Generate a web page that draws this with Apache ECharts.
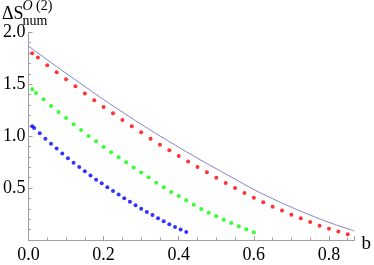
<!DOCTYPE html>
<html>
<head>
<meta charset="utf-8">
<script src="https://cdn.jsdelivr.net/npm/echarts@6/dist/echarts.min.js"></script>
<style>html,body{margin:0;padding:0;background:#fff;}#c{width:374px;height:265px;}</style>
</head>
<body>
<div id="c"></div>
<script>
const redX = [0.01,0.025,0.05,0.075,0.1,0.125,0.15,0.175,0.2,0.225,0.25,0.275,0.3,0.325,0.35,0.375,0.4,0.425,0.45,0.475,0.5,0.525,0.55,0.575,0.6,0.625,0.65,0.675,0.7,0.725,0.75,0.775,0.8,0.825,0.85];
const redY = [1.798,1.757,1.683,1.615,1.548,1.480,1.410,1.346,1.281,1.220,1.156,1.095,1.037,0.976,0.918,0.864,0.809,0.755,0.703,0.652,0.600,0.549,0.501,0.453,0.408,0.363,0.321,0.283,0.244,0.209,0.173,0.138,0.109,0.083,0.055];
const greenX = [0.01,0.02,0.04,0.06,0.08,0.1,0.12,0.14,0.16,0.18,0.2,0.22,0.24,0.26,0.28,0.3,0.32,0.34,0.36,0.38,0.4,0.42,0.44,0.46,0.48,0.5,0.52,0.54,0.56,0.58,0.6];
const greenY = [1.452,1.416,1.355,1.291,1.233,1.175,1.114,1.060,1.002,0.951,0.896,0.845,0.796,0.748,0.697,0.649,0.604,0.552,0.507,0.462,0.424,0.382,0.340,0.299,0.263,0.228,0.196,0.164,0.132,0.103,0.074];
const blueX = [0.01,0.015,0.03,0.045,0.06,0.075,0.09,0.105,0.12,0.135,0.15,0.165,0.18,0.195,0.21,0.225,0.24,0.255,0.27,0.285,0.3,0.315,0.33,0.345,0.36,0.375,0.39,0.405,0.42];
const blueY = [1.095,1.079,1.028,0.976,0.928,0.880,0.832,0.787,0.745,0.703,0.662,0.620,0.581,0.546,0.507,0.472,0.437,0.401,0.369,0.334,0.302,0.270,0.241,0.209,0.180,0.151,0.125,0.100,0.077];
const curveX = [0,0.05,0.1,0.15,0.2,0.25,0.3,0.35,0.4,0.45,0.5,0.55,0.6,0.65,0.7,0.75,0.8,0.85,0.868];
const curveY = [1.867,1.735,1.605,1.478,1.352,1.232,1.115,1.002,0.893,0.788,0.686,0.586,0.486,0.398,0.316,0.240,0.170,0.108,0.087];
const xTicks = [0, 0.2, 0.4, 0.6, 0.8];
const yTicks = [0.5, 1.0, 1.5, 2.0];

const zip = (a, b) => a.map((v, i) => [v, b[i]]);
const F = 'Liberation Serif';
const axisColor = '#a0a0a0';
const chart = echarts.init(document.getElementById('c'));
chart.setOption({
  animation: false,
  backgroundColor: '#fff',
  grid: { left: 26.3, right: 18, top: 32.3, bottom: 25 },
  xAxis: {
    type: 'value', min: 0, max: 0.868, interval: 0.2,
    name: 'b', nameLocation: 'end', nameGap: 7,
    nameTextStyle: { fontFamily: F, fontSize: 19, color: '#000', verticalAlign: 'top', padding: [-5, 0, 0, 0] },
    axisLine: { lineStyle: { color: axisColor, width: 1 } },
    axisTick: { inside: true, length: 4, lineStyle: { color: axisColor } },
    minorTick: { show: true, splitNumber: 4, length: 2.5, lineStyle: { color: axisColor } },
    splitLine: { show: false },
    axisLabel: { fontFamily: F, fontSize: 18, color: '#000', margin: 6, showMaxLabel: false,
      formatter: v => xTicks.some(t => Math.abs(t - v) < 1e-9) ? v.toFixed(1) : '' }
  },
  yAxis: {
    type: 'value', min: 0, max: 2, interval: 0.5,
    axisLine: { show: true, lineStyle: { color: axisColor, width: 1 } },
    axisTick: { show: true, inside: true, length: 4, lineStyle: { color: axisColor } },
    minorTick: { show: true, splitNumber: 5, length: 2.5, lineStyle: { color: axisColor } },
    splitLine: { show: false },
    axisLabel: { fontFamily: F, fontSize: 18, color: '#000', margin: 3,
      formatter: v => yTicks.some(t => Math.abs(t - v) < 1e-9) ? v.toFixed(1) : '' }
  },
  graphic: [
    { type: 'text', left: 2, top: 5, style: { text: 'ΔS', font: '18px "Liberation Serif"', fill: '#000' } },
    { type: 'text', left: 22.5, top: -1, style: { text: '{o|O}{p| (2)}', rich: { o: { fontFamily: F, fontSize: 14, fontStyle: 'italic', fill: '#000' }, p: { fontFamily: F, fontSize: 14, fill: '#000' } } } },
    { type: 'text', left: 22.5, top: 14, style: { text: 'num', font: '14px "Liberation Serif"', fill: '#000' } }
  ],
  series: [
    { type: 'line', data: zip(curveX, curveY), smooth: true, showSymbol: false, lineStyle: { color: '#7f7fc7', width: 1 }, z: 1 },
    { type: 'scatter', data: zip(redX, redY), symbolSize: 4, itemStyle: { color: '#ff0000' }, z: 2 },
    { type: 'scatter', data: zip(greenX, greenY), symbolSize: 4, itemStyle: { color: '#00ff00' }, z: 2 },
    { type: 'scatter', data: zip(blueX, blueY), symbolSize: 4, itemStyle: { color: '#0000ff' }, z: 2 }
  ]
});
</script>
</body>
</html>
